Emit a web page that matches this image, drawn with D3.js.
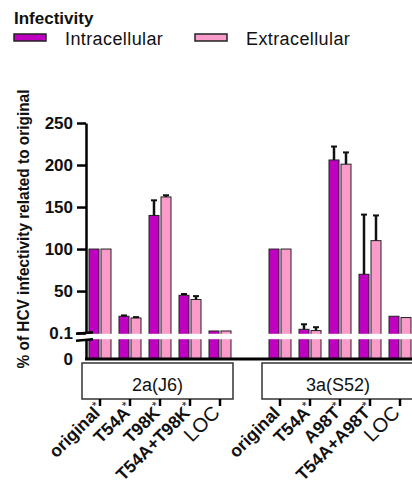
<!DOCTYPE html>
<html>
<head>
<meta charset="utf-8">
<script src="https://cdn.jsdelivr.net/npm/d3@7"></script>
<style>
    body { margin: 0; background: #fff; }
    svg { display: block; font-family: "Liberation Sans", Arial, sans-serif; }
</style>
</head>
<body>
<div id="chart"></div>
<script>
// categories per virus
const cats2a = ["original", "T54A", "T98K", "T54A+T98K", "LOC"];
const cats3a = ["original", "T54A", "A98T", "T54A+A98T", "LOC"];
const star2a = [true, true, true, true, false];
const star3a = [false, true, true, true, false];
const panels = ["2a(J6)", "3a(S52)"];
const seriesNames = ["Intracellular", "Extracellular"];

// values (% of original) and upper error
const intra2a = [100, 20, 140, 45, 2.5];
const intraErr2a = [0, 1, 18, 1.5, 0];
const extra2a = [100, 18, 162, 40, 2.5];
const extraErr2a = [0, 1, 2, 4, 0];
const intra3a = [100, 4.5, 206, 70, 20];
const intraErr3a = [0, 6, 16, 71, 0];
const extra3a = [100, 3, 201, 110, 18.5];
const extraErr3a = [0, 4, 14, 30, 0];

const upperTicks = [0.1, 50, 100, 150, 200, 250];

const colors = { Intracellular: "#C000C0", Extracellular: "#FA9BCA" };

const width = 412, height = 488;
const svg = d3.select("#chart").append("svg")
    .attr("width", width)
    .attr("height", height);

// build rows
const rows = [];
cats2a.forEach((c, i) => rows.push({ key: "2a-" + i, cat: c, panel: 0, star: star2a[i],
    vals: [intra2a[i], extra2a[i]], errs: [intraErr2a[i], extraErr2a[i]] }));
cats3a.forEach((c, i) => rows.push({ key: "3a-" + i, cat: c, panel: 1, star: star3a[i],
    vals: [intra3a[i], extra3a[i]], errs: [intraErr3a[i], extraErr3a[i]] }));

// slots: 5 + gap + 5
const slots = cats2a.map((c, i) => "2a-" + i).concat(["gap"], cats3a.map((c, i) => "3a-" + i));

const x = d3.scaleBand().domain(slots).range([85, 415]).padding(0);
const x1 = d3.scaleBand().domain(seriesNames).range([4, 26]).paddingInner(1 / 6);

const yUpper = d3.scaleLinear().domain([0.1, 250]).range([333, 123]);
const yLower = d3.scaleLinear().domain([0, 0.1]).range([359, 340]);

// bars
const g = svg.append("g");
const bars = [];
rows.forEach(r => seriesNames.forEach((s, k) => bars.push({ row: r, s: s, v: r.vals[k], e: r.errs[k] })));

g.selectAll("rect.bar")
    .data(bars)
    .enter()
    .append("rect")
    .attr("class", "bar")
    .attr("x", d => x(d.row.key) + x1(d.s))
    .attr("width", x1.bandwidth())
    .attr("y", d => d.v >= 0.1 ? yUpper(d.v) : yLower(d.v))
    .attr("height", d => yLower(0) - (d.v >= 0.1 ? yUpper(d.v) : yLower(d.v)))
    .attr("fill", d => colors[d.s])
    .attr("stroke", "#222")
    .attr("stroke-width", 1);

// error bars (upper only)
const errs = bars.filter(d => d.e > 0);
g.selectAll("line.err")
    .data(errs)
    .enter()
    .append("line")
    .attr("x1", d => x(d.row.key) + x1(d.s) + x1.bandwidth() / 2)
    .attr("x2", d => x(d.row.key) + x1(d.s) + x1.bandwidth() / 2)
    .attr("y1", d => yUpper(d.v))
    .attr("y2", d => yUpper(d.v + d.e))
    .attr("stroke", "#111")
    .attr("stroke-width", 2.5);

g.selectAll("line.cap")
    .data(errs)
    .enter()
    .append("line")
    .attr("x1", d => x(d.row.key) + x1(d.s) + x1.bandwidth() / 2 - 3)
    .attr("x2", d => x(d.row.key) + x1(d.s) + x1.bandwidth() / 2 + 3)
    .attr("y1", d => yUpper(d.v + d.e))
    .attr("y2", d => yUpper(d.v + d.e))
    .attr("stroke", "#111")
    .attr("stroke-width", 2);

// white break band
svg.append("rect")
    .attr("x", 82)
    .attr("y", yUpper(0.1) + 0.8)
    .attr("width", width)
    .attr("height", yLower(0.1) - yUpper(0.1) - 1.6)
    .attr("fill", "#fff");

// y axes
const tickFont = "bold 17px 'Liberation Sans', Arial, sans-serif";
const axUp = svg.append("g")
    .attr("transform", "translate(86,0)")
    .call(d3.axisLeft(yUpper).tickValues(upperTicks).tickSize(9).tickSizeOuter(0).tickPadding(4)
        .tickFormat(d => d === 0.1 ? "0.1" : d3.format("d")(d)));
const axLow = svg.append("g")
    .attr("transform", "translate(86,0)")
    .call(d3.axisLeft(yLower).tickValues([0]).tickSize(0).tickSizeOuter(0).tickPadding(13)
        .tickFormat(d3.format("d")));

[axUp, axLow].forEach(a => {
    a.select(".domain").attr("stroke", "#000").attr("stroke-width", 2.5);
    a.selectAll(".tick line").attr("stroke", "#000").attr("stroke-width", 2.5);
    a.selectAll("text").style("font", tickFont).attr("fill", "#111");
});

// break marks
[yUpper(0.1), yLower(0.1)].forEach(yy => {
    svg.append("line")
        .attr("x1", 76).attr("x2", 93)
        .attr("y1", yy + 0.8).attr("y2", yy - 0.8)
        .attr("stroke", "#000")
        .attr("stroke-width", 2.5);
});

// x baseline
svg.append("line")
    .attr("x1", 85).attr("x2", width)
    .attr("y1", yLower(0)).attr("y2", yLower(0))
    .attr("stroke", "#000")
    .attr("stroke-width", 3);

// y title
svg.append("text")
    .attr("transform", "translate(29,229) rotate(-90) scale(1,1.12)")
    .attr("text-anchor", "middle")
    .style("font", "bold 15.4px 'Liberation Sans', Arial, sans-serif")
    .attr("fill", "#111")
    .text("% of HCV infectivity related to original");

// panel boxes
const panelRows = [rows.filter(r => r.panel === 0), rows.filter(r => r.panel === 1)];
panelRows.forEach((pr, p) => {
    const x0 = x(pr[0].key) - 3;
    const xEnd = p === 0 ? x(pr[pr.length - 1].key) + x.bandwidth() - 2 : width + 10;
    svg.append("rect")
        .attr("x", x0).attr("y", 363)
        .attr("width", xEnd - x0).attr("height", 36)
        .attr("fill", "#fff")
        .attr("stroke", "#333")
        .attr("stroke-width", 1.5);
    svg.append("text")
        .attr("x", p === 0 ? (x0 + xEnd) / 2 : x(pr[2].key) + x.bandwidth() / 2 - 2)
        .attr("y", 391)
        .attr("text-anchor", "middle")
        .style("font", "18px 'Liberation Sans', Arial, sans-serif")
        .attr("fill", "#111")
        .text(panels[p]);
});

// category ticks and labels
rows.forEach(r => {
    const cx = x(r.key) + x.bandwidth() / 2;
    svg.append("line")
        .attr("x1", cx).attr("x2", cx)
        .attr("y1", 399).attr("y2", 406)
        .attr("stroke", "#000")
        .attr("stroke-width", 2.5);
    const isLoc = r.cat === "LOC";
    svg.append("text")
        .attr("transform", `translate(${cx + 1},414) rotate(-45)`)
        .attr("text-anchor", "end")
        .style("font", isLoc ? "20px 'Liberation Sans', Arial, sans-serif" : "bold 17.5px 'Liberation Sans', Arial, sans-serif")
        .attr("fill", "#111")
        .text(r.cat);
    if (r.star) {
        svg.append("text")
            .attr("transform", `translate(${cx + 1},414) rotate(-45)`)
            .attr("x", 0).attr("y", -6)
            .style("font", "12px 'Liberation Sans', Arial, sans-serif")
            .attr("fill", "#111")
            .text("*");
    }
});

// legend
svg.append("text")
    .attr("x", 14).attr("y", 24)
    .style("font", "bold 17px 'Liberation Sans', Arial, sans-serif")
    .attr("fill", "#111")
    .text("Infectivity");

const legendX = [14, 195];
seriesNames.forEach((s, i) => {
    svg.append("rect")
        .attr("x", legendX[i]).attr("y", 34)
        .attr("width", 32).attr("height", 7)
        .attr("fill", colors[s])
        .attr("stroke", "#222")
        .attr("stroke-width", 1.5);
    svg.append("text")
        .attr("x", legendX[i] + 51).attr("y", 45)
        .style("font", "18px 'Liberation Sans', Arial, sans-serif")
        .style("letter-spacing", "0.4px")
        .attr("fill", "#111")
        .text(s);
});
</script>
</body>
</html>
